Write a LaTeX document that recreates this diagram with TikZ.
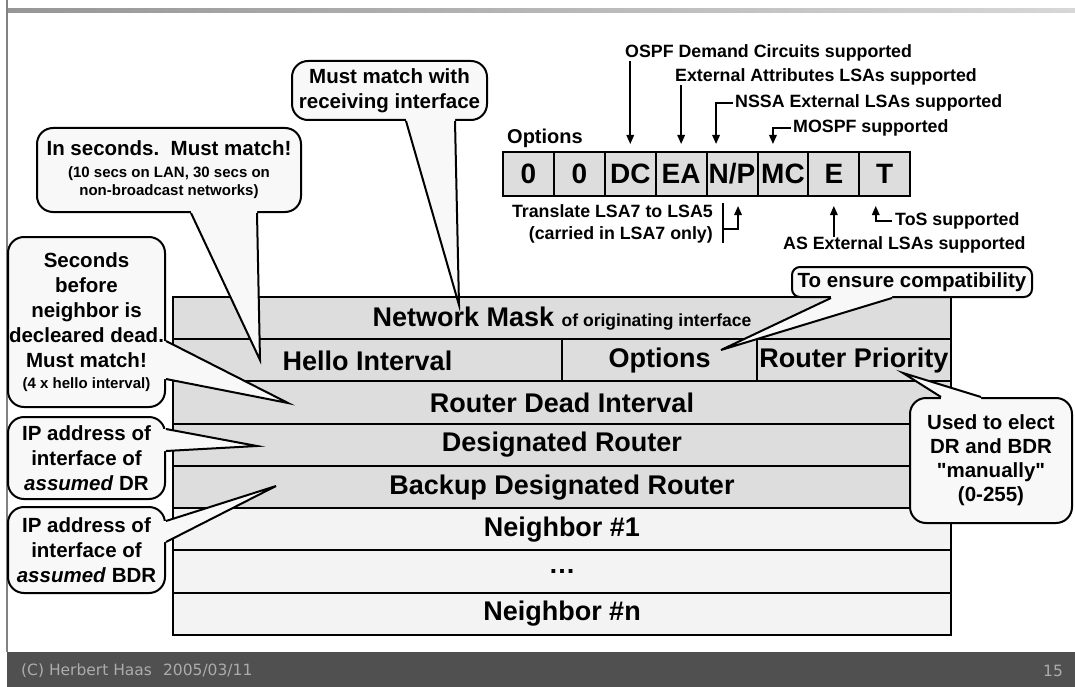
\documentclass[tikz,border=0pt]{standalone}
\usepackage{fontspec}
\setmainfont{Liberation Sans}[Ligatures=TeXOff]
\newfontfamily\footfont{DejaVu Sans}
\usetikzlibrary{calc,arrows.meta}
\definecolor{rowdark}{RGB}{221,221,221}
\definecolor{rowlight}{RGB}{243,243,243}
\definecolor{cfill}{RGB}{248,248,248}
\definecolor{footbg}{RGB}{80,80,80}
\definecolor{foottext}{RGB}{172,172,172}
\definecolor{toplineL}{RGB}{150,150,150}
\definecolor{toplineR}{RGB}{215,215,215}
\definecolor{leftline}{RGB}{130,130,130}
\newcommand\csmall{\fontsize{15}{18}\selectfont}
\newcommand\calloutptr[4]{%
  \fill[cfill] ($(#1)+(#4)$) -- (#1) -- (#2) -- (#3) -- ($(#3)+(#4)$) -- cycle;
  \draw[cline] (#1) -- (#2) -- (#3);}
\tikzset{
  row/.style={draw=black, line width=2pt, minimum height=42.25pt, inner sep=0pt,
    font=\bfseries\fontsize{27}{30}\selectfont},
  rowd/.style={row, fill=rowdark},
  rowl/.style={row, fill=rowlight},
  optcell/.style={draw=black, line width=2pt, fill=rowdark, minimum width=50.9pt,
    minimum height=44pt, inner sep=0pt, font=\bfseries\fontsize{28}{30}\selectfont},
  anno/.style={inner sep=0pt, font=\bfseries\fontsize{17.8}{22}\selectfont},
  arr/.style={line width=1.6pt, -{Triangle[length=9pt,width=7.5pt]}},
  bracketline/.style={line width=1.6pt},
  callbody/.style={draw=black, fill=cfill, line width=2pt, rounded corners=16pt,
    align=center, inner sep=0pt, font=\bfseries\fontsize{20.5}{25}\selectfont},
  cline/.style={draw=black, line width=2pt, line join=miter},
  foot/.style={inner sep=0pt, text=foottext, font=\footfont\fontsize{15.5}{18}\selectfont}
}
\begin{document}
\begin{tikzpicture}[x=1pt,y=-1pt]
\useasboundingbox (0,0) rectangle (1075,687);
\fill[white] (0,0) rectangle (1075,687);
% frame decorations
\shade[left color=toplineL, right color=toplineR] (7,9) rectangle (1075,13);
\draw[leftline, line width=1.5pt] (7,0) -- (7,652);
\fill[footbg] (7,652) rectangle (1075,687);
\node[foot, anchor=west] (fcopy) at (21,671) {(C) Herbert Haas\hspace{11pt}2005/03/11};
\node[foot] (fpage) at (1053,671) {15};

% hello packet table
\node[rowd, minimum width=778pt] (mask) at (562,318.1) {Network Mask {\fontsize{17.5}{20}\selectfont of originating interface}};
\node[rowd, minimum width=389pt] (hello) at (367.5,360.4) {Hello Interval};
\node[rowd, minimum width=195pt] (opts) at (659.5,360.4) {Options};
\node[rowd, minimum width=194pt] (prio) at (854,360.4) {Router Priority};
\node[rowd, minimum width=778pt] (dead) at (562,402.6) {Router Dead Interval};
\node[rowd, minimum width=778pt] (dr) at (562,444.9) {Designated Router};
\node[rowd, minimum width=778pt] (bdr) at (562,487.1) {Backup Designated Router};
\node[rowl, minimum width=778pt] (n1) at (562,529.4) {Neighbor \#1};
\node[rowl, minimum width=778pt] (ndots) at (562,571.6) {…};
\node[rowl, minimum width=778pt] (nn) at (562,613.9) {Neighbor \#n};

% options field
\node[anno, font=\bfseries\fontsize{20}{24}\selectfont, anchor=west] (lOpt) at (507,138) {Options};
\node[optcell] (oA) at (528.45,174) {0};
\node[optcell] (oB) at (579.35,174) {0};
\node[optcell] (oDC) at (630.25,174) {DC};
\node[optcell] (oEA) at (681.15,174) {EA};
\node[optcell] (oNP) at (732.05,174) {N/P};
\node[optcell] (oMC) at (782.95,174) {MC};
\node[optcell] (oE) at (833.85,174) {E};
\node[optcell] (oT) at (884.75,174) {T};

% option annotations
\node[anno, anchor=west] (lDC) at (625,53) {OSPF Demand Circuits supported};
\node[anno, anchor=west] (lEA) at (675,77) {External Attributes LSAs supported};
\node[anno, anchor=west] (lNSSA) at (735,103) {NSSA External LSAs supported};
\node[anno, anchor=west] (lMOSPF) at (793,128) {MOSPF supported};
\node[anno, anchor=east, align=right] (lTrans) at (713,224) {Translate LSA7 to LSA5\\(carried in LSA7 only)};
\node[anno, anchor=west] (lToS) at (895,221) {ToS supported};
\node[anno, anchor=west] (lAS) at (783,245) {AS External LSAs supported};

\draw[arr] (oDC.north |- lDC.south) -- ($(oDC.north)+(0,-7)$);
\draw[arr] (oEA.north |- lEA.south) -- ($(oEA.north)+(0,-7)$);
\draw[arr] ($(lNSSA.west)+(-2,0)$) -| ($(oNP.north)+(-16,-7)$);
\draw[arr] ($(lMOSPF.west)+(-2,0)$) -| ($(oMC.north)+(-10,-7)$);
\draw[arr] (oE.south |- lAS.north) -- ($(oE.south)+(0,9)$);
\draw[arr] ($(lToS.west)+(-3,0)$) -| ($(oT.south)+(-9,9)$);
\draw[bracketline] ($(lTrans.east)+(10,-21)$) -- ($(lTrans.east)+(10,19)$);
\draw[arr] ($(lTrans.east)+(10,5)$) -| ($(oNP.south)+(6,9)$);

% callouts
\node[callbody, minimum width=195pt, minimum height=59pt] (cMust) at (389.5,90.5) {Must match with\\receiving interface};
\node[callbody, minimum width=264pt, minimum height=84pt] (cSec) at (169,170) {In seconds.~~Must match!\\[-3pt]{\csmall (10 secs on LAN, 30 secs on}\\[-7pt]{\csmall non-broadcast networks)}};
\node[callbody, minimum width=157pt, minimum height=170pt] (cDead) at (86.5,322) {Seconds\\before\\neighbor is\\decleared dead.\\Must match!\\[-4pt]{\csmall (4 x hello interval)}};
\node[callbody, minimum width=157pt, minimum height=82pt] (cDR) at (86.5,458) {IP address of\\interface of\\\textit{assumed} DR};
\node[callbody, minimum width=157pt, minimum height=86pt] (cBDR) at (86.5,550) {IP address of\\interface of\\\textit{assumed} BDR};
\node[callbody, rounded corners=8pt, minimum width=240pt, minimum height=30pt] (cComp) at (912,282) {To ensure compatibility};
\node[callbody, minimum width=162pt, minimum height=125pt, font=\bfseries\fontsize{20.5}{24}\selectfont] (cUsed) at (991,460.5) {Used to elect\\DR and BDR\\"manually"\\(0-255)};

\coordinate (tMust) at (459,305);
\coordinate (tSec) at (260,360);
\coordinate (tDead) at (288,403);
\coordinate (tDR) at (257,446);
\coordinate (tBDR) at (276,486);
\coordinate (tComp) at (721,350);
\coordinate (tUsed) at (903,373);

\coordinate (mB1) at ($(cMust.south west)+(115,0)$);
\coordinate (mB2) at ($(cMust.south west)+(164,0)$);
\coordinate (sB1) at ($(cSec.south west)+(155,0)$);
\coordinate (sB2) at ($(cSec.south west)+(221,0)$);
\coordinate (dB1) at ($(cDead.north east)+(0,105)$);
\coordinate (dB2) at ($(cDead.north east)+(0,143)$);
\coordinate (rB1) at ($(cDR.north east)+(0,13)$);
\coordinate (rB2) at ($(cDR.north east)+(0,35)$);
\coordinate (bB1) at ($(cBDR.north east)+(0,15)$);
\coordinate (bB2) at ($(cBDR.north east)+(0,36)$);
\coordinate (cB1) at ($(cComp.south west)+(40,0)$);
\coordinate (cB2) at ($(cComp.south west)+(101,0)$);
\coordinate (uB1) at ($(cUsed.north west)+(32,0)$);
\coordinate (uB2) at ($(cUsed.north west)+(72,0)$);

\calloutptr{mB1}{tMust}{mB2}{0,-3}
\calloutptr{sB1}{tSec}{sB2}{0,-3}
\calloutptr{dB1}{tDead}{dB2}{-3,0}
\calloutptr{rB1}{tDR}{rB2}{-3,0}
\calloutptr{bB1}{tBDR}{bB2}{-3,0}
\calloutptr{cB1}{tComp}{cB2}{0,-3}
\calloutptr{uB1}{tUsed}{uB2}{0,3}
\end{tikzpicture}
\end{document}
